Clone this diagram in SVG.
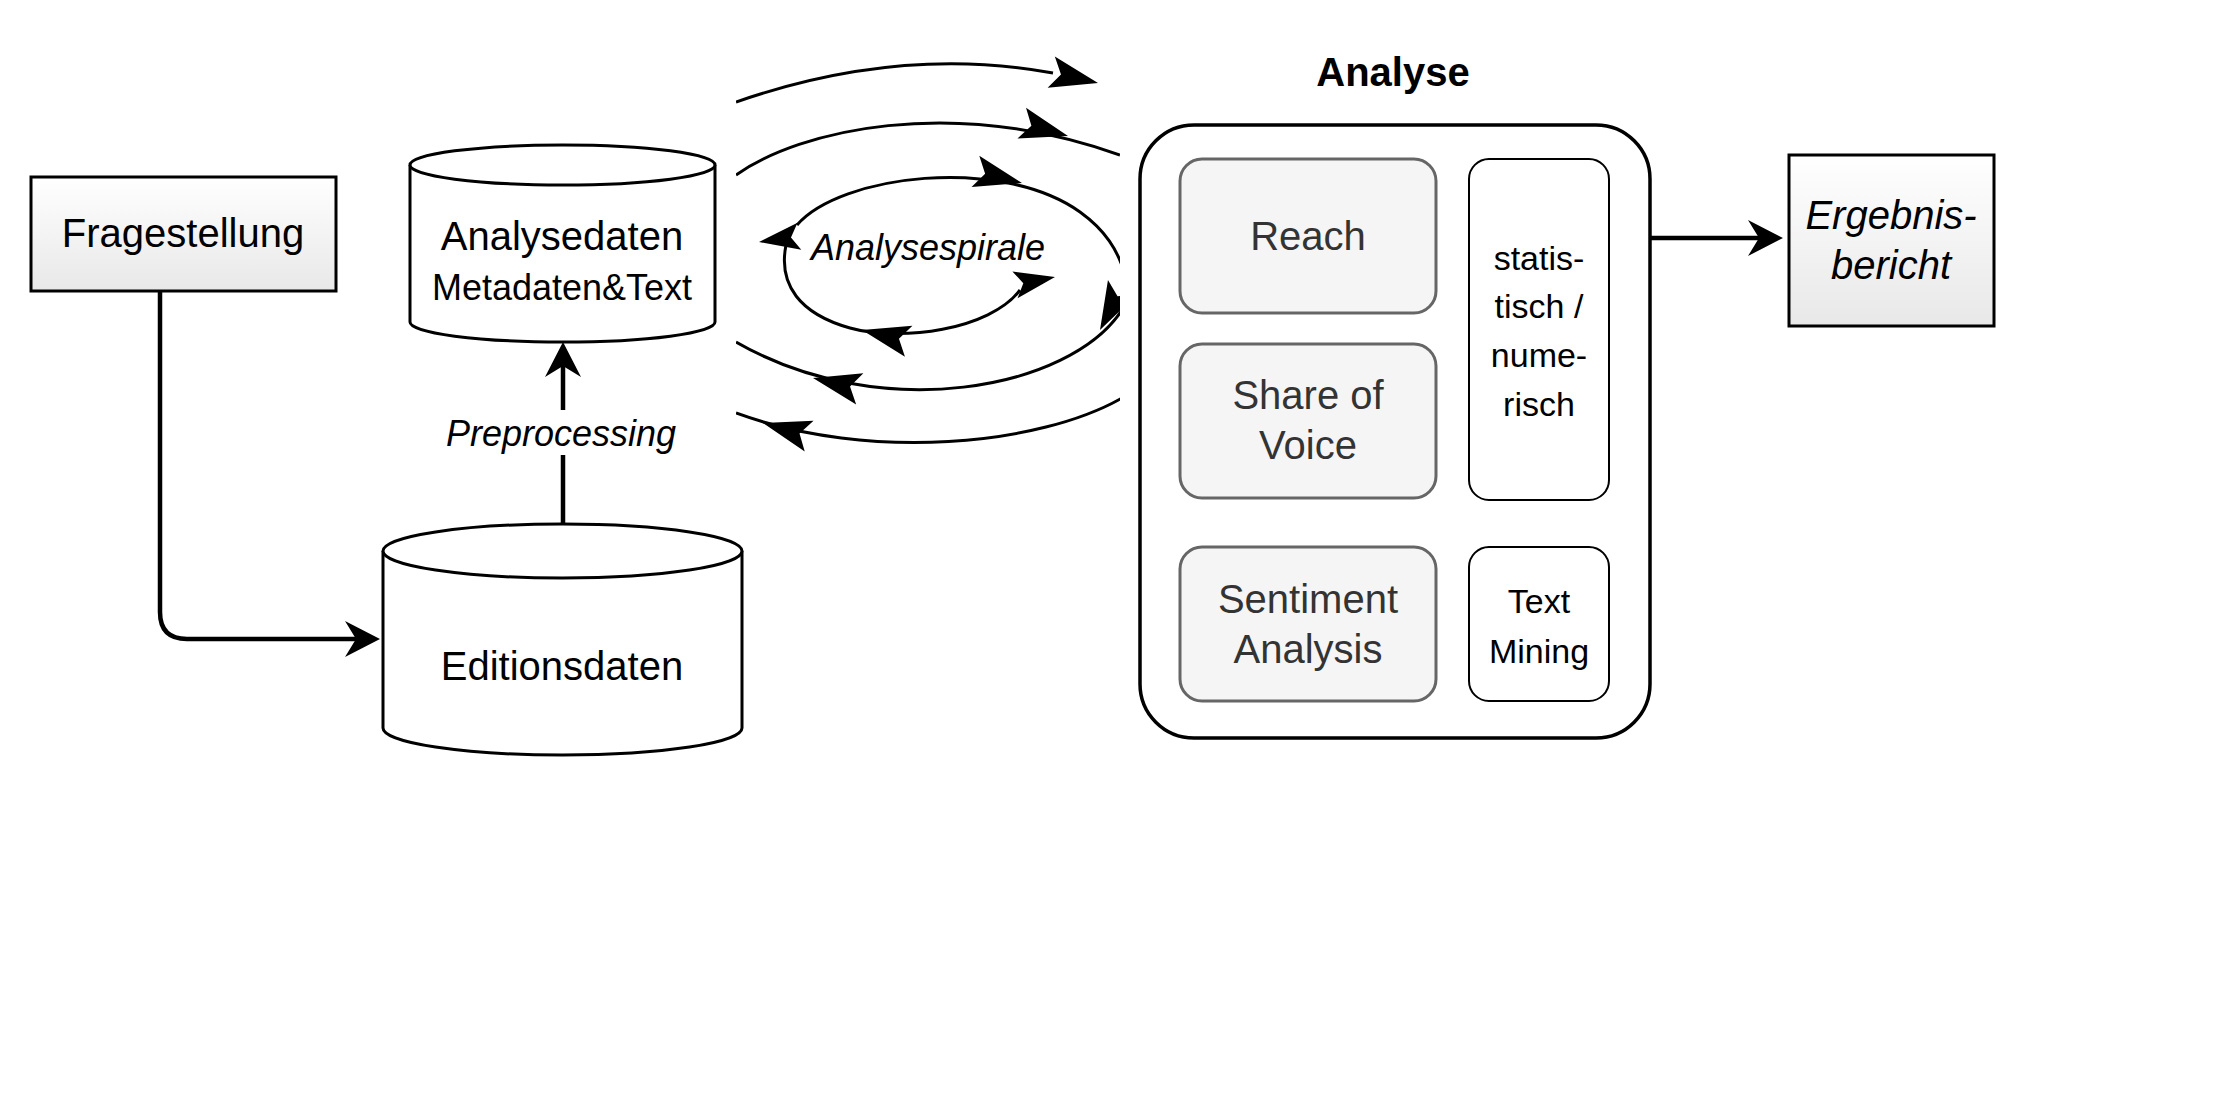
<svg xmlns="http://www.w3.org/2000/svg" width="2234" height="1099" viewBox="0 0 2234 1099">
<defs>
  <linearGradient id="gfill" x1="0" y1="0" x2="0" y2="1">
    <stop offset="0" stop-color="#ffffff"/>
    <stop offset="1" stop-color="#e8e8e8"/>
  </linearGradient>
  <marker id="arr" markerUnits="userSpaceOnUse" viewBox="-36 -19 37 38" markerWidth="37" markerHeight="38" refX="-24" refY="0" orient="auto">
    <path d="M0,0 L-35,-18 L-24,0 L-35,18 Z" fill="#000"/>
  </marker>
  <path id="ah" d="M0,0 L-48,-16 L-38,0 L-48,16 Z" fill="#000"/>
  <clipPath id="spiralClip"><rect x="736" y="0" width="384" height="520"/></clipPath>
</defs>
<style>
  text{font-family:"Liberation Sans",Arial,Helvetica,sans-serif;text-anchor:middle;fill:#000}
  .f40{font-size:40px}
  .f36{font-size:36px}
  .f34{font-size:34px}
  .it{font-style:italic}
  .bold{font-weight:bold}
  .grey{fill:#333333}
  .shape{stroke:#000;stroke-width:3}
  .cyl{fill:#fff;stroke:#000;stroke-width:3}
  .gbox{fill:#f5f5f5;stroke:#666666;stroke-width:3}
  .wbox{fill:#fff;stroke:#000;stroke-width:2}
  .conn{fill:none;stroke:#000;stroke-width:4.5;marker-end:url(#arr)}
  .sp{fill:none;stroke:#000;stroke-width:3}
</style>

<rect width="2234" height="1099" fill="#fff"/>

<!-- connectors -->
<g id="connectors">
  <path class="conn" d="M160,292 V612 Q160,639 187,639 H356"/>
  <path class="conn" d="M563,524 V366"/>
  <path class="conn" d="M1650,238 H1759"/>
  <rect x="442" y="410" width="238" height="45" fill="#fff"/>
  <text class="f36 it" x="561" y="446">Preprocessing</text>
</g>

<!-- spiral -->
<g id="spiral" clip-path="url(#spiralClip)">
  <g class="sp">
    <path d="M736,102 Q900,45 1053,73"/>
    <path d="M736,175 C800,130 950,95 1120,155"/>
    <path d="M797,225 C840,175 1000,155 1080,212 C1105,230 1118,250 1125,275"/>
    <path d="M1020,290 C990,330 900,342 850,328 C800,314 778,285 786,245"/>
    <path d="M1122,310 C1070,390 880,425 736,342"/>
    <path d="M1122,398 C1040,445 870,462 736,413"/>
  </g>
  <use href="#ah" transform="translate(1098,83) rotate(13)"/>
  <use href="#ah" transform="translate(1068,136) rotate(15.5)"/>
  <use href="#ah" transform="translate(1022,183) rotate(14)"/>
  <use href="#ah" transform="translate(759,242) rotate(172) scale(0.85)"/>
  <use href="#ah" transform="translate(1055,277) rotate(-11) scale(0.85)"/>
  <use href="#ah" transform="translate(862,330) rotate(193.5)"/>
  <use href="#ah" transform="translate(1100,330) rotate(117.5)"/>
  <use href="#ah" transform="translate(813,378) rotate(193)"/>
  <use href="#ah" transform="translate(763,423) rotate(196)"/>
  <text class="f36 it" x="928" y="260">Analysespirale</text>
</g>

<!-- Fragestellung -->
<g id="fragestellung">
  <rect class="shape" x="31" y="177" width="305" height="114" fill="url(#gfill)"/>
  <text class="f40" x="183" y="247">Fragestellung</text>
</g>

<!-- Analysedaten -->
<g id="analysedaten">
  <path class="cyl" d="M410,165 A152.5,20 0 0 1 715,165 V322 A152.5,20 0 0 1 410,322 Z"/>
  <path class="cyl" d="M410,165 A152.5,20 0 0 0 715,165" fill="none"/>
  <text class="f40" x="562" y="250">Analysedaten</text>
  <text class="f36" x="562" y="300">Metadaten&amp;Text</text>
</g>

<!-- Editionsdaten -->
<g id="editionsdaten">
  <path class="cyl" d="M383,551 A179.5,27 0 0 1 742,551 V728 A179.5,27 0 0 1 383,728 Z"/>
  <path class="cyl" d="M383,551 A179.5,27 0 0 0 742,551" fill="none"/>
  <text class="f40" x="562" y="680">Editionsdaten</text>
</g>

<!-- Analyse container -->
<g id="analyse">
  <text class="f40 bold" x="1393" y="86">Analyse</text>
  <rect x="1140" y="125" width="510" height="613" rx="54" fill="#fff" stroke="#000" stroke-width="3.5"/>
</g>

<g id="reach">
  <rect class="gbox" x="1180" y="159" width="256" height="154" rx="22"/>
  <text class="f40 grey" x="1308" y="250">Reach</text>
</g>

<g id="share-of-voice">
  <rect class="gbox" x="1180" y="344" width="256" height="154" rx="22"/>
  <text class="f40 grey" x="1308" y="409">Share of</text>
  <text class="f40 grey" x="1308" y="459">Voice</text>
</g>

<g id="sentiment-analysis">
  <rect class="gbox" x="1180" y="547" width="256" height="154" rx="22"/>
  <text class="f40 grey" x="1308" y="613">Sentiment</text>
  <text class="f40 grey" x="1308" y="663">Analysis</text>
</g>

<g id="statistisch">
  <rect class="wbox" x="1469" y="159" width="140" height="341" rx="20"/>
  <text class="f34" x="1539" y="270">statis-</text>
  <text class="f34" x="1539" y="318">tisch /</text>
  <text class="f34" x="1539" y="367">nume-</text>
  <text class="f34" x="1539" y="416">risch</text>
</g>

<g id="text-mining">
  <rect class="wbox" x="1469" y="547" width="140" height="154" rx="20"/>
  <text class="f34" x="1539" y="613">Text</text>
  <text class="f34" x="1539" y="663">Mining</text>
</g>

<!-- Ergebnisbericht -->
<g id="ergebnisbericht">
  <rect class="shape" x="1789" y="155" width="205" height="171" fill="url(#gfill)"/>
  <text class="f40 it" x="1891" y="229">Ergebnis-</text>
  <text class="f40 it" x="1891" y="279">bericht</text>
</g>
</svg>
